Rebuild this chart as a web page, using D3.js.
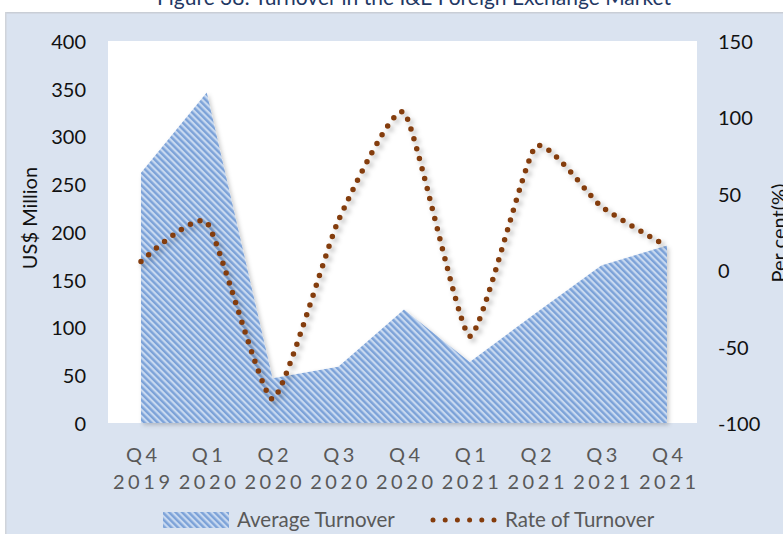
<!DOCTYPE html>
<html><head><meta charset="utf-8">
<script src="https://cdn.jsdelivr.net/npm/d3@7"></script>
<style>html,body{margin:0;padding:0;background:#fff;overflow:hidden}
text{font-family:Lato,"Open Sans",sans-serif}</style>
</head><body><svg id="c" width="783" height="534"></svg>
<script>
const categories = ["Q4 2019","Q1 2020","Q2 2020","Q3 2020","Q4 2020","Q1 2021","Q2 2021","Q3 2021","Q4 2021"];
const avgTurnover = [263, 347, 48, 60, 120, 65, 116, 166, 187];
const rateTurnover = [6.4, 32, -83.7, 33, 104, -42.6, 81.5, 42.3, 16.2];
const leftTicks = [0, 50, 100, 150, 200, 250, 300, 350, 400];
const rightTicks = [-100, -50, 0, 50, 100, 150];
const seriesNames = ["Average Turnover", "Rate of Turnover"];
const titleText = "Figure 38: Turnover in the I&E Foreign Exchange Market";

const svg = d3.select("#c");
const defs = svg.append("defs");

// hatch pattern
const pat = defs.append("pattern").attr("id","hatch").attr("patternUnits","userSpaceOnUse")
  .attr("width",4.6).attr("height",4.6).attr("patternTransform","rotate(-45)");
pat.append("rect").attr("width",4.6).attr("height",4.6).attr("fill","#c8d9f0");
pat.append("rect").attr("width",2.4).attr("height",4.6).attr("fill","#7ca2d8");

const sh = defs.append("filter").attr("id","shadow").attr("x","-10%").attr("y","-10%").attr("width","130%").attr("height","130%");
sh.append("feDropShadow").attr("dx",3).attr("dy",3).attr("stdDeviation",2.5).attr("flood-color","#000").attr("flood-opacity",0.3);
const sh2 = defs.append("filter").attr("id","shadow2").attr("x","-10%").attr("y","-10%").attr("width","130%").attr("height","130%");
sh2.append("feDropShadow").attr("dx",2).attr("dy",2).attr("stdDeviation",2).attr("flood-color","#000").attr("flood-opacity",0.2);

// title
svg.append("text").attr("x",414).attr("y",5).attr("text-anchor","middle")
  .attr("font-size",21).attr("fill","#1f3864").text(titleText);

// panel
svg.append("rect").attr("x",5).attr("y",12).attr("width",790).attr("height",540).attr("fill","#dae3f0");
svg.append("rect").attr("x",5).attr("y",12).attr("width",790).attr("height",1.5).attr("fill","#c9ced6");
svg.append("rect").attr("x",5).attr("y",12).attr("width",1.5).attr("height",540).attr("fill","#d0d4da");

// plot area
const pL = 108, pR = 697, pT = 41, pB = 423;
svg.append("rect").attr("x",pL).attr("y",pT).attr("width",pR-pL).attr("height",pB-pT).attr("fill","#fff");

const x = d3.scalePoint().domain(categories).range([141, 667]);
const yL = d3.scaleLinear().domain([0,400]).range([424, 42]);
const yR = d3.scaleLinear().domain([-100,150]).range([424, 42]);

// area
const area = d3.area().x((d,i)=>x(categories[i])).y0(pB).y1(d=>yL(d)).curve(d3.curveLinear);
svg.append("path").datum(avgTurnover).attr("d",area).attr("fill","url(#hatch)")
  .attr("filter","url(#shadow2)");

// rate line
const line = d3.line().x((d,i)=>x(categories[i])).y(d=>yR(d)).curve(d3.curveCardinal.tension(0.5));
svg.append("path").datum(rateTurnover).attr("d",line).attr("fill","none")
  .attr("stroke","#843c0c").attr("stroke-width",5.5).attr("stroke-linecap","round")
  .attr("stroke-dasharray","0 10.3").attr("filter","url(#shadow)");

const fmt = d => String(d);
// left axis
const gL = svg.append("g").attr("transform",`translate(${pL},0)`)
  .call(d3.axisLeft(yL).tickValues(leftTicks).tickFormat(fmt).tickSize(0).tickPadding(22));
gL.select(".domain").remove();
gL.selectAll("text").attr("font-size",20).attr("fill","#111").attr("font-family","Lato");

// right axis
const gR = svg.append("g").attr("transform",`translate(${pR},0)`)
  .call(d3.axisRight(yR).tickValues(rightTicks).tickFormat(fmt).tickSize(0).tickPadding(21));
gR.select(".domain").remove();
gR.selectAll("text").attr("font-size",20).attr("fill","#111").attr("font-family","Lato");

// x axis
const gX = svg.append("g").attr("transform",`translate(0,${pB})`)
  .call(d3.axisBottom(x).tickSize(0).tickPadding(0));
gX.select(".domain").remove();
gX.selectAll("text").each(function(d){
  const t = d3.select(this);
  const parts = d.split(" ");
  t.text(null).attr("y",0).attr("dy",null).attr("font-size",20).attr("fill","#595959")
   .attr("font-family","Lato").attr("letter-spacing","3.6px");
  t.append("tspan").attr("x",1.8).attr("y",39).text(parts[0]);
  t.append("tspan").attr("x",1.8).attr("y",66).text(parts[1]);
});

// axis titles
svg.append("text").attr("transform","translate(37,218) rotate(-90)").attr("text-anchor","middle")
  .attr("font-size",20).attr("fill","#111").text("US$ Million");
svg.append("text").attr("transform","translate(786,233) rotate(-90)").attr("text-anchor","middle")
  .attr("font-size",20).attr("fill","#111").text("Per cent(%)");

// legend
const lg = svg.append("g");
lg.append("rect").attr("x",163).attr("y",512).attr("width",66).attr("height",16).attr("fill","url(#hatch)");
lg.append("text").attr("x",237).attr("y",527).attr("font-size",20.5).attr("fill","#595959").text(seriesNames[0]);
lg.append("line").attr("x1",433).attr("x2",494).attr("y1",520).attr("y2",520)
  .attr("stroke","#843c0c").attr("stroke-width",5).attr("stroke-linecap","round").attr("stroke-dasharray","0 12.2");
lg.append("text").attr("x",505).attr("y",527).attr("font-size",20.5).attr("fill","#595959").text(seriesNames[1]);
</script></body></html>
